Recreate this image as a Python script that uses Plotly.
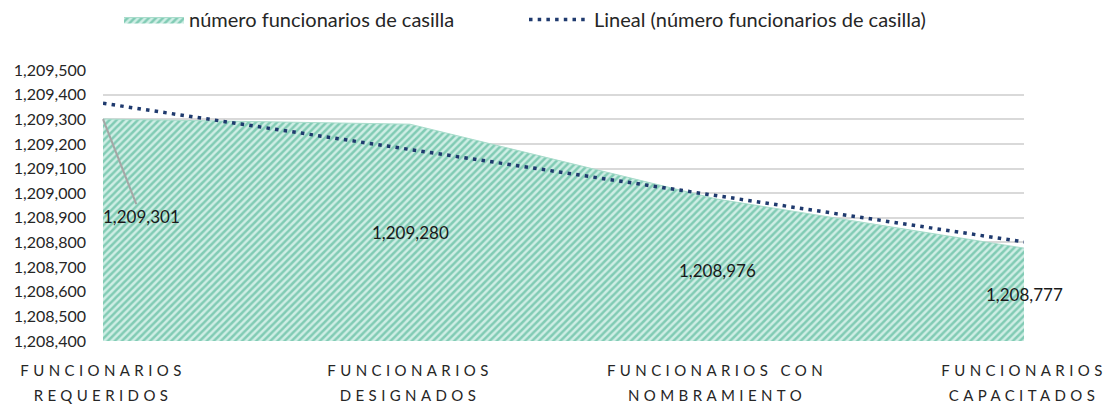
import numpy as np
import plotly.graph_objects as go

categorias = ['FUNCIONARIOS<br>REQUERIDOS', 'FUNCIONARIOS<br>DESIGNADOS',
              'FUNCIONARIOS CON<br>NOMBRAMIENTO', 'FUNCIONARIOS<br>CAPACITADOS']
funcionarios = [1209301, 1209280, 1208976, 1208777]
y_min, y_max = 1208400, 1209500

# Linear trend (Excel "Lineal") fitted on the series
idx = np.arange(1, len(funcionarios) + 1)
pendiente, ordenada = np.polyfit(idx, funcionarios, 1)
tendencia = pendiente * idx + ordenada

font_family = 'Lato, Calibri, sans-serif'
texto = '#262626'

fig = go.Figure()

# Area series with diagonal hatching
fig.add_trace(go.Scatter(x=categorias, y=funcionarios,
                         name='número funcionarios de casilla',
                         mode='lines', fill='tozeroy',
                         line=dict(color='#a8dccb', width=1),
                         fillcolor='#cdeee4',
                         fillpattern=dict(shape='/', size=5, solidity=0.5,
                                          fgcolor='#33a883', bgcolor='#cfeee5'),
                         hoverinfo='skip'))

# Dotted linear trendline
fig.add_trace(go.Scatter(x=categorias, y=tendencia,
                         name='Lineal (número funcionarios de casilla)',
                         mode='lines',
                         line=dict(color='#1f3a6e', width=3.5, dash='3.5px,5.2px'),
                         hoverinfo='skip'))

# Data labels, placed mid-height in the area (first one moved with a leader line)
anotaciones = []
for i, (c, v) in enumerate(zip(categorias, funcionarios)):
    etiqueta = f'{v:,}'
    if i == 0:
        anotaciones.append(dict(x=c, y=v, text=etiqueta, showarrow=True,
                                arrowhead=0, arrowwidth=2, arrowcolor='#a6a6a6',
                                ax=38, ay=97, standoff=0,
                                font=dict(size=17, color='#1a1a1a', family=font_family)))
    else:
        anotaciones.append(dict(x=c, y=(v + y_min) / 2, text=etiqueta, showarrow=False,
                                font=dict(size=17, color='#1a1a1a', family=font_family)))

fig.update_layout(
    width=1111, height=406,
    margin=dict(l=103, r=87, t=70, b=65, autoexpand=False),
    paper_bgcolor='white', plot_bgcolor='white',
    font=dict(family=font_family, color=texto),
    showlegend=True,
    legend=dict(orientation='h', xref='container', x=119 / 1111, xanchor='left',
                yref='container', y=1, yanchor='top',
                font=dict(size=20, color=texto, family=font_family),
                itemwidth=60, entrywidth=330, entrywidthmode='pixels',
                traceorder='normal'),
    annotations=anotaciones,
)

fig.update_xaxes(type='category', range=[0, len(categorias) - 1],
                 showgrid=False, showline=False, ticks='', automargin=False,
                 ticklabelstandoff=19,
                 tickfont=dict(size=15, color=texto, family=font_family),
                 fixedrange=True)
fig.update_yaxes(range=[y_min, y_max], dtick=100, tickformat=',d',
                 showgrid=True, gridcolor='#d9d9d9', gridwidth=1.5,
                 zeroline=False, showline=False, ticks='', automargin=False,
                 ticklabelstandoff=16,
                 tickfont=dict(size=16, color=texto, family=font_family),
                 fixedrange=True)

# No page margin; wide letter spacing and looser line height on the category labels
post = """
document.body.style.margin = '0';
document.querySelectorAll('.xtick text').forEach(function(t){
  t.style.letterSpacing = '4.4px';
  var lines = t.querySelectorAll('tspan.line');
  for (var i = 1; i < lines.length; i++) { lines[i].setAttribute('dy', '1.65em'); }
});
"""

fig.write_html("out.html", post_script=post, config={'displayModeBar': False})
